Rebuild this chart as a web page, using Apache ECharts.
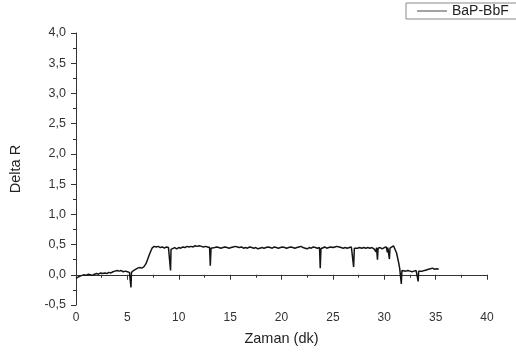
<!DOCTYPE html>
<html>
<head>
<meta charset="utf-8">
<script src="https://cdn.jsdelivr.net/npm/echarts@6/dist/echarts.min.js"></script>
<style>
  html, body { margin: 0; padding: 0; background: #fff; }
  #chart { width: 516px; height: 356px; }
</style>
</head>
<body>
<div id="chart"></div>
<script>
// Time axis ticks (minutes) and Delta R ticks
const timeTicks = [0, 5, 10, 15, 20, 25, 30, 35, 40];
const deltaTicks = [-0.5, 0.0, 0.5, 1.0, 1.5, 2.0, 2.5, 3.0, 3.5, 4.0];

// Sampling times (dk) of the BaP-BbF trace
const time = [
  0.0, 0.1, 0.2, 0.4, 0.6, 0.8, 1.0, 1.2, 1.4, 1.6, 1.8, 2.0, 2.2, 2.4, 2.6, 2.8,
  3.0, 3.2, 3.4, 3.6, 3.8, 4.0, 4.2, 4.4, 4.6, 4.8, 5.0, 5.2, 5.3, 5.35, 5.4, 5.6,
  5.8, 6.0, 6.2, 6.4, 6.6, 6.8, 7.0, 7.2, 7.4, 7.6, 7.8, 8.0, 8.2, 8.4, 8.6, 8.8,
  9.0, 9.15, 9.2, 9.25, 9.4, 9.6, 9.8, 10.0, 10.2, 10.4, 10.6, 10.8, 11.0, 11.2, 11.4, 11.6,
  11.8, 12.0, 12.2, 12.4, 12.6, 12.8, 13.0, 13.07, 13.14, 13.3, 13.5, 13.7, 13.9, 14.1, 14.3, 14.5,
  14.7, 14.9, 15.1, 15.3, 15.5, 15.7, 15.9, 16.1, 16.3, 16.5, 16.7, 16.9, 17.1, 17.3, 17.5, 17.7,
  17.9, 18.1, 18.3, 18.5, 18.7, 18.9, 19.1, 19.3, 19.5, 19.7, 19.9, 20.1, 20.3, 20.5, 20.7, 20.9,
  21.1, 21.3, 21.5, 21.7, 21.9, 22.1, 22.3, 22.5, 22.7, 22.9, 23.1, 23.3, 23.5, 23.7, 23.77, 23.84,
  24.0, 24.2, 24.4, 24.6, 24.8, 25.0, 25.2, 25.4, 25.6, 25.8, 26.0, 26.2, 26.4, 26.6, 26.8, 26.95,
  27.02, 27.09, 27.2, 27.4, 27.6, 27.8, 28.0, 28.2, 28.4, 28.6, 28.8, 29.0, 29.1, 29.2, 29.25, 29.34,
  29.4, 29.6, 29.8, 30.0, 30.2, 30.3, 30.35, 30.5, 30.56, 30.7, 30.9, 31.0, 31.2, 31.4, 31.5, 31.6,
  31.66, 31.72, 31.9, 32.1, 32.3, 32.5, 32.7, 32.9, 33.1, 33.25, 33.3, 33.35, 33.5, 33.7, 33.9, 34.1,
  34.3, 34.5, 34.7, 34.9, 35.1, 35.3
];

// Delta R readings at those times
const deltaR = [
  -0.06, -0.08, -0.04, -0.02, -0.01, 0.00, -0.01, 0.01, 0.00, -0.01, 0.01, 0.02, 0.01, 0.03, 0.02, 0.03,
  0.02, 0.04, 0.03, 0.05, 0.06, 0.07, 0.06, 0.07, 0.05, 0.06, 0.05, 0.04, 0.05, -0.21, 0.04, 0.07,
  0.09, 0.11, 0.12, 0.11, 0.13, 0.18, 0.27, 0.36, 0.44, 0.47, 0.46, 0.47, 0.45, 0.46, 0.44, 0.46,
  0.45, 0.44, 0.07, 0.42, 0.44, 0.45, 0.43, 0.45, 0.44, 0.46, 0.45, 0.47, 0.46, 0.47, 0.46, 0.48,
  0.47, 0.48, 0.47, 0.46, 0.47, 0.46, 0.45, 0.15, 0.44, 0.46, 0.45, 0.46, 0.45, 0.44, 0.45, 0.46,
  0.45, 0.44, 0.45, 0.46, 0.47, 0.46, 0.45, 0.46, 0.44, 0.45, 0.44, 0.46, 0.45, 0.44, 0.45, 0.43,
  0.44, 0.45, 0.44, 0.45, 0.46, 0.45, 0.44, 0.46, 0.45, 0.44, 0.45, 0.46, 0.45, 0.44, 0.45, 0.46,
  0.45, 0.44, 0.45, 0.46, 0.47, 0.45, 0.44, 0.43, 0.45, 0.44, 0.46, 0.45, 0.44, 0.45, 0.11, 0.43,
  0.45, 0.46, 0.44, 0.45, 0.46, 0.45, 0.46, 0.47, 0.46, 0.45, 0.44, 0.45, 0.44, 0.45, 0.46, 0.45,
  0.13, 0.44, 0.46, 0.44, 0.45, 0.44, 0.45, 0.44, 0.45, 0.44, 0.45, 0.43, 0.44, 0.38, 0.45, 0.25,
  0.44, 0.45, 0.43, 0.45, 0.46, 0.37, 0.45, 0.26, 0.44, 0.47, 0.48, 0.46, 0.36, 0.20, 0.11, 0.08,
  -0.15, 0.07, 0.07, 0.06, 0.07, 0.06, 0.05, 0.06, 0.07, 0.05, -0.11, 0.06, 0.07, 0.06, 0.07, 0.08,
  0.09, 0.10, 0.11, 0.09, 0.10, 0.09
];

const seriesName = 'BaP-BbF';
const points = time.map((t, i) => [t, deltaR[i]]);

const fmt = v => v.toFixed(1).replace('.', ',');
const font = '"Liberation Sans", Arial, sans-serif';

const chart = echarts.init(document.getElementById('chart'), null, { renderer: 'canvas' });
chart.setOption({
  animation: false,
  backgroundColor: '#fff',
  textStyle: { fontFamily: font },
  grid: { left: 73, right: 29, top: 33, bottom: 51, containLabel: false },
  legend: {
    data: [{ name: seriesName, icon: 'rect' }],
    left: 406, top: 3,
    padding: [1, 12, 1, 11],
    itemWidth: 30, itemHeight: 1,
    itemGap: 5,
    borderColor: '#8a8a8a', borderWidth: 1,
    backgroundColor: '#fff',
    textStyle: { fontSize: 14, color: '#222', fontFamily: font },
    itemStyle: { color: '#444' }
  },
  xAxis: {
    type: 'value',
    min: timeTicks[0], max: timeTicks[timeTicks.length - 1], interval: 5,
    name: 'Zaman (dk)', nameLocation: 'middle', nameGap: 26,
    nameTextStyle: { fontSize: 14.5, color: '#222', fontFamily: font },
    axisLine: { show: true, lineStyle: { color: '#333', width: 1 } },
    axisTick: { show: true, inside: false, length: 5, lineStyle: { color: '#333' } },
    minorTick: { show: true, splitNumber: 2, length: 3, lineStyle: { color: '#333' } },
    axisLabel: { fontSize: 12, color: '#333', margin: 7, formatter: v => String(v) },
    splitLine: { show: false }
  },
  yAxis: {
    type: 'value',
    min: deltaTicks[0], max: deltaTicks[deltaTicks.length - 1], interval: 0.5,
    name: 'Delta R', nameLocation: 'middle', nameGap: 53,
    nameTextStyle: { fontSize: 14.5, color: '#222', fontFamily: font },
    axisLine: { show: true, lineStyle: { color: '#333', width: 1 } },
    axisTick: { show: true, inside: false, length: 5, lineStyle: { color: '#333' } },
    minorTick: { show: true, splitNumber: 2, length: 3, lineStyle: { color: '#333' } },
    axisLabel: { fontSize: 12.5, color: '#333', margin: 10, formatter: v => fmt(v) },
    splitLine: { show: false }
  },
  series: [{
    name: seriesName,
    type: 'line',
    data: points,
    showSymbol: false,
    symbol: 'none',
    lineStyle: { color: '#151515', width: 1.5 },
    itemStyle: { color: '#444' }
  }]
});
</script>
</body>
</html>
